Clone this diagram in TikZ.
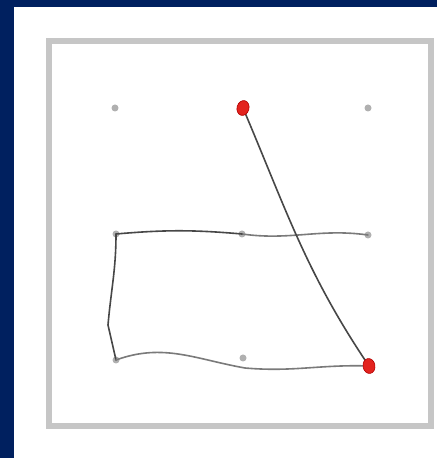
\documentclass[tikz,border=0pt]{standalone}
\usepackage{tikz}
\usetikzlibrary{shapes.geometric}

\definecolor{navy}{HTML}{00205F}
\definecolor{pencil}{HTML}{474747}
\definecolor{pencillight}{HTML}{7A7A7A}
\definecolor{dotgray}{HTML}{B0B0B0}
\definecolor{rimgray}{HTML}{C6C6C6}
\definecolor{pinred}{HTML}{E3231E}

\begin{document}
\begin{tikzpicture}[x=1pt,y=1pt,
  peg/.style={circle,fill=dotgray,inner sep=0pt,minimum size=7pt},
  pin/.style={ellipse,fill=pinred,draw=red!70!black,line width=0.6pt,inner sep=0pt,minimum width=12pt,minimum height=15pt},
  stroke/.style={draw=pencil,line width=1.6pt,line cap=round,line join=round},
  softstroke/.style={draw=pencillight,line width=1.6pt,line cap=round,line join=round}]
  % page
  \fill[navy] (0,0) rectangle (437,458);
  \fill[white] (14,0) rectangle (437,451);
  \useasboundingbox (0,0) rectangle (437,458);
  \draw[rimgray,line width=6.5pt] (49,32) rectangle (431,417);
  % pegs
  \node[peg] (tl) at (115,350) {};
  \node[peg] (tc) at (243,350) {};
  \node[peg] (tr) at (368,350) {};
  \node[peg] (ml) at (116,224) {};
  \node[peg] (mc) at (242,224) {};
  \node[peg] (mr) at (368,223) {};
  \node[peg] (bl) at (116,98) {};
  \node[peg] (bc) at (243,100) {};
  \node[peg] (br) at (369,92) {};
  \coordinate (lk) at (108,133);
  \coordinate (bw) at (245,90);
  % strings
  \draw[softstroke] (mr.center) to[out=172,in=-8] (mc.center);
  \draw[stroke] (mc.center) to[out=175,in=5] (ml.center);
  \draw[stroke] (ml.center) to[out=-90,in=85] (lk) -- (bl.center);
  \draw[softstroke] (bl.center) to[out=20,in=170] (bw) to[out=-5,in=178] (br.center);
  \draw[stroke] (tc.center) to[out=-67,in=124] (br.center);
  % pins
  \node[pin,rotate=-15] (tcpin) at (tc) {};
  \node[pin,rotate=10] (brpin) at (br) {};
\end{tikzpicture}
\end{document}
